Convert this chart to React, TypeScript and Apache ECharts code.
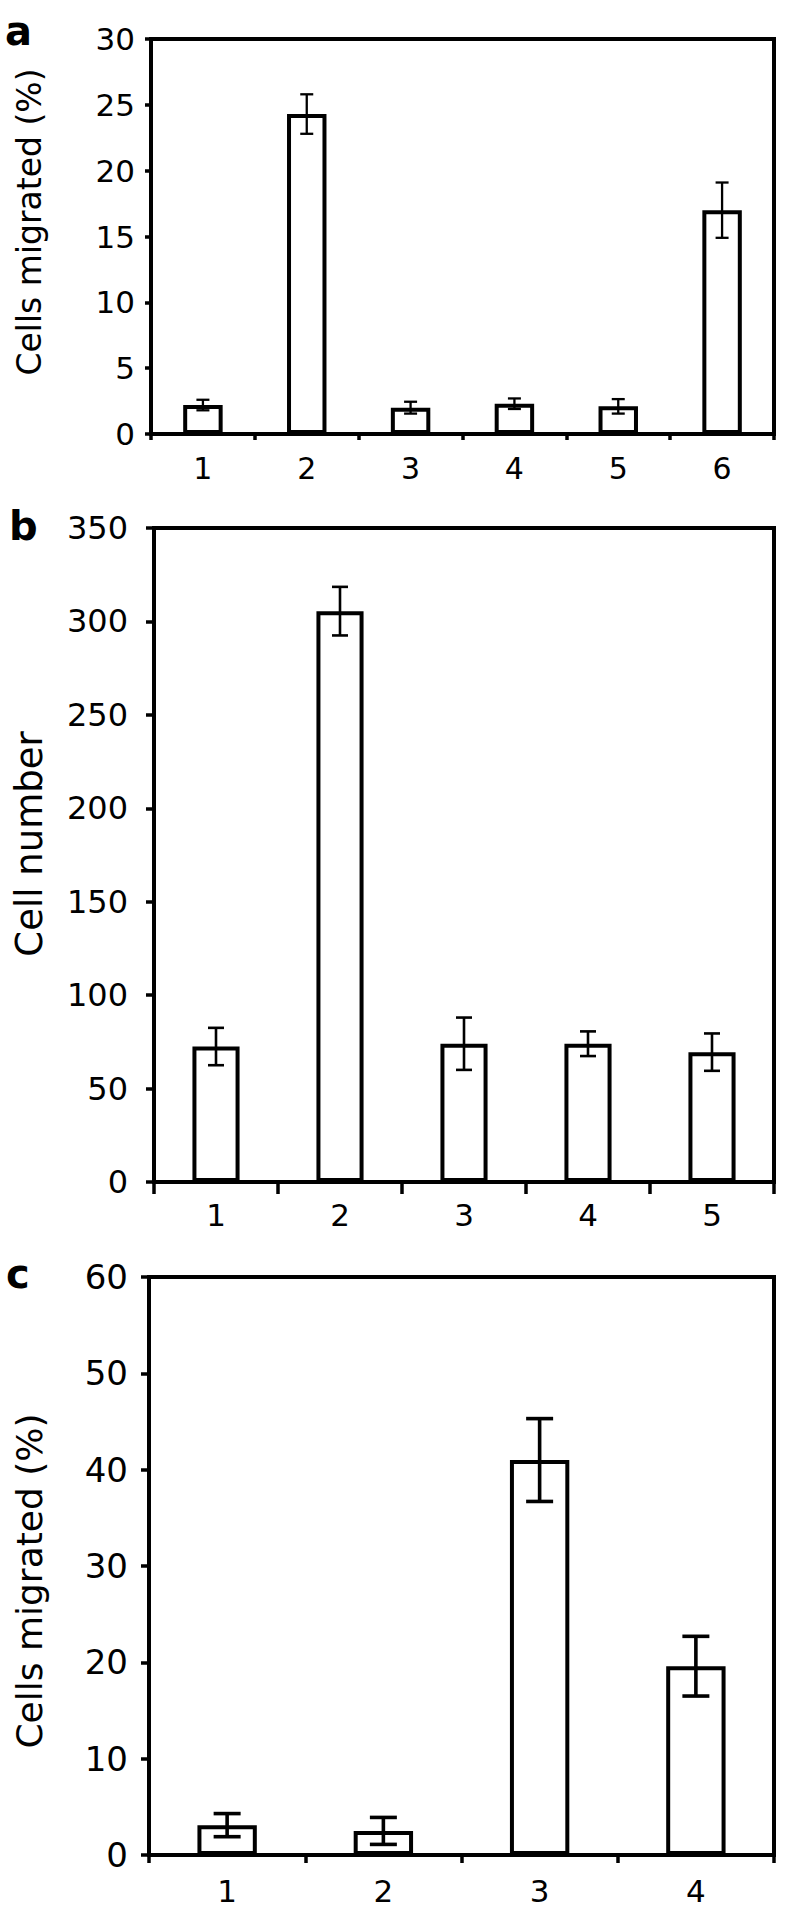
import React, { useEffect, useRef } from "react";
import * as echarts from "echarts";

// Panel a
const catsA = ["1", "2", "3", "4", "5", "6"];
const valsA = [2.2, 24.3, 2.0, 2.3, 2.1, 17.0];
const errA = [0.4, 1.5, 0.45, 0.4, 0.55, 2.1];
const yMaxA = 30;
const yStepA = 5;
const titleA = "Cells migrated (%)";

// Panel b
const catsB = ["1", "2", "3", "4", "5"];
const valsB = [72.5, 305.5, 74, 74, 69.5];
const errB = [10, 13, 14, 6.6, 10];
const yMaxB = 350;
const yStepB = 50;
const titleB = "Cell number";

// Panel c
const catsC = ["1", "2", "3", "4"];
const valsC = [3.1, 2.5, 41, 19.6];
const errC = [1.2, 1.4, 4.3, 3.1];
const yMaxC = 60;
const yStepC = 10;
const titleC = "Cells migrated (%)";

const panelLetters = ["a", "b", "c"];

const FONT = "DejaVu Sans";
const BLACK = "#000";

function errRender(capW: number, lw: number) {
  return (params: any, api: any) => {
    const i = api.value(0);
    const m = api.value(1);
    const e = api.value(2);
    const hi = api.coord([i, m + e]);
    const lo = api.coord([i, m - e]);
    const st = { stroke: BLACK, lineWidth: lw, fill: "none" };
    return {
      type: "group",
      children: [
        { type: "line", shape: { x1: hi[0], y1: hi[1], x2: lo[0], y2: lo[1] }, style: st },
        { type: "line", shape: { x1: hi[0] - capW / 2, y1: hi[1], x2: hi[0] + capW / 2, y2: hi[1] }, style: st },
        { type: "line", shape: { x1: lo[0] - capW / 2, y1: lo[1], x2: lo[0] + capW / 2, y2: lo[1] }, style: st },
      ],
    };
  };
}

export default function App() {
  const ref = useRef<HTMLDivElement>(null);
  useEffect(() => {
    if (!ref.current) return;
    const chart = echarts.init(ref.current, null, { renderer: "svg" });

    const gridStyle = { show: true, borderColor: BLACK, borderWidth: 4, backgroundColor: "transparent" };
    const xAx = (gi: number, data: string[], tickLen: number, fs: number, margin: number) => ({
      gridIndex: gi,
      type: "category",
      data,
      boundaryGap: true,
      axisLine: { lineStyle: { color: BLACK, width: 4 } },
      axisTick: { show: true, length: tickLen, inside: false, lineStyle: { color: BLACK, width: 3.5 } },
      axisLabel: { color: BLACK, fontSize: fs, fontFamily: FONT, margin, interval: 0 },
      splitLine: { show: false },
    });
    const yAx = (gi: number, max: number, step: number, tickLen: number, fs: number, margin: number) => ({
      gridIndex: gi,
      type: "value",
      min: 0,
      max,
      interval: step,
      axisLine: { show: true, lineStyle: { color: BLACK, width: 4 } },
      axisTick: { show: true, length: tickLen, inside: false, lineStyle: { color: BLACK, width: 3.5 } },
      axisLabel: { color: BLACK, fontSize: fs, fontFamily: FONT, margin },
      splitLine: { show: false },
    });
    const barS = (i: number, vals: number[]) => ({
      type: "bar",
      xAxisIndex: i,
      yAxisIndex: i,
      data: vals,
      barWidth: "38%",
      itemStyle: { color: "#fff", borderColor: BLACK, borderWidth: 4 },
      silent: true,
    });
    const errS = (i: number, vals: number[], errs: number[], capW: number, lw: number) => ({
      type: "custom",
      xAxisIndex: i,
      yAxisIndex: i,
      data: vals.map((v, k) => [k, v, errs[k]]),
      encode: { x: 0, y: 1 },
      renderItem: errRender(capW, lw),
      z: 5,
      silent: true,
    });
    const title = (text: string, x: number, y: number, fs: number) => ({
      type: "text",
      x,
      y,
      rotation: Math.PI / 2,
      style: { text, fill: BLACK, font: `${fs}px "${FONT}"`, textAlign: "center", textVerticalAlign: "middle" },
    });
    const letter = (text: string, x: number, y: number) => ({
      type: "text",
      x,
      y,
      style: { text, fill: BLACK, font: `bold 40px "${FONT}"`, textAlign: "left", textVerticalAlign: "middle" },
    });

    chart.setOption({
      animation: false,
      backgroundColor: "#fff",
      grid: [
        { left: 151, top: 39, width: 623, height: 395, ...gridStyle },
        { left: 154, top: 528, width: 620, height: 654, ...gridStyle },
        { left: 149, top: 1277, width: 625, height: 578, ...gridStyle },
      ],
      xAxis: [
        xAx(0, catsA, 6, 30, 19),
        xAx(1, catsB, 12, 31, 17),
        xAx(2, catsC, 8, 31, 20),
      ],
      yAxis: [
        yAx(0, yMaxA, yStepA, 6, 31, 16),
        yAx(1, yMaxB, yStepB, 8, 32, 26),
        yAx(2, yMaxC, yStepC, 8, 34, 21),
      ],
      series: [
        barS(0, valsA),
        errS(0, valsA, errA, 13, 2.3),
        barS(1, valsB),
        errS(1, valsB, errB, 16, 2.6),
        barS(2, valsC),
        errS(2, valsC, errC, 27, 3.6),
      ],
      graphic: [
        letter(panelLetters[0], 5, 31),
        letter(panelLetters[1], 9, 526),
        letter(panelLetters[2], 6, 1274),
        title(titleA, 29, 222, 33),
        title(titleB, 29, 844, 37),
        title(titleC, 29, 1581, 36),
      ],
    });
    return () => chart.dispose();
  }, []);
  return (
    <div
      ref={ref}
      style={{ position: "absolute", left: 0, top: 0, width: 800, height: 1912, background: "#fff" }}
    />
  );
}
